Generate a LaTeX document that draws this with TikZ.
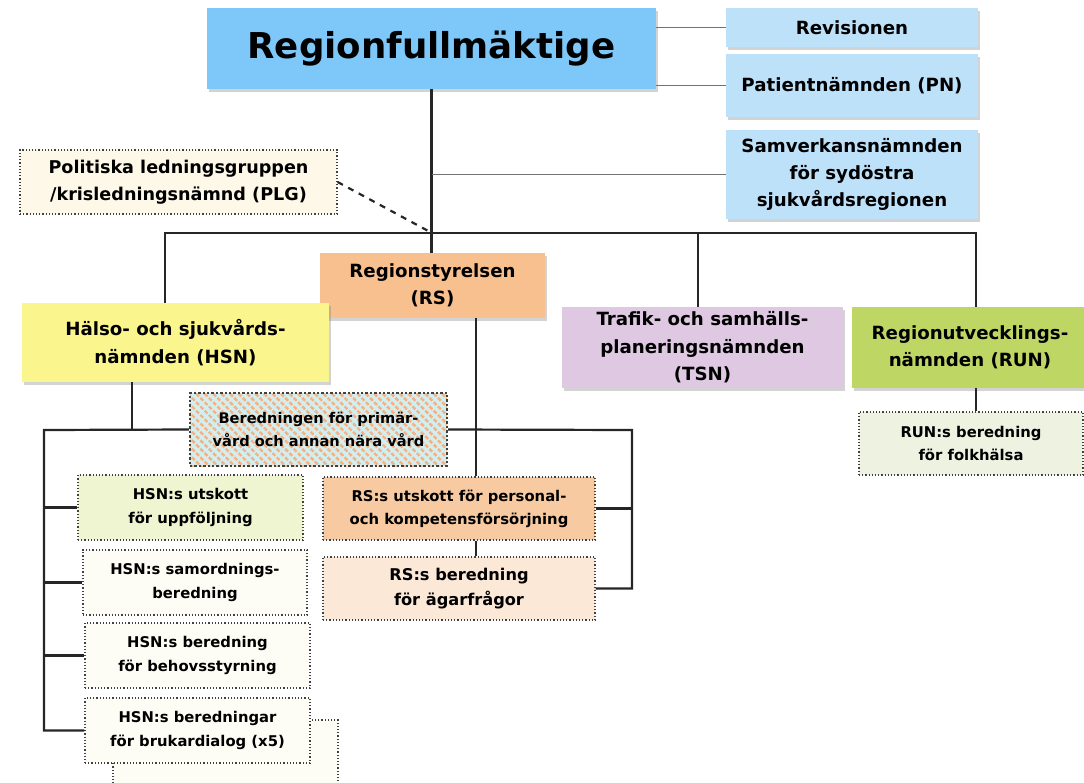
\documentclass[tikz,border=0pt]{standalone}
\usepackage{fontspec}
\setmainfont{DejaVu Sans}
\usetikzlibrary{positioning,shadows,patterns.meta}
\definecolor{rfblue}{RGB}{125,200,248}
\definecolor{sideblue}{RGB}{190,225,250}
\definecolor{rsorange}{RGB}{248,192,142}
\definecolor{hsnyellow}{RGB}{250,245,140}
\definecolor{tsnlilac}{RGB}{222,200,226}
\definecolor{rungreen}{RGB}{190,214,100}
\definecolor{plgcream}{RGB}{253,248,232}
\definecolor{utskgreen}{RGB}{238,245,208}
\definecolor{rsuorange}{RGB}{248,202,162}
\definecolor{rsbpeach}{RGB}{252,232,215}
\definecolor{prepwhite}{RGB}{254,253,245}
\definecolor{runbgreen}{RGB}{238,242,225}
\definecolor{hatchblue}{RGB}{212,238,240}
\definecolor{hatchorange}{RGB}{246,176,128}
\tikzset{
	box/.style = {align = center, inner sep = 0pt},
	board/.style = {box, drop shadow = {shadow xshift = 1.2pt, shadow yshift = -1.4pt, opacity = 0.35},
		font = \bfseries\fontsize{9.1}{13.7}\selectfont},
	side/.style = {board, fill = sideblue},
	prep/.style = {box, draw = black!75, densely dotted, line width = 0.6pt,
		font = \bfseries\fontsize{7.4}{11.6}\selectfont},
	link/.style = {draw = black!85, line width = 1.1pt},
	thin link/.style = {draw = black!55, line width = 0.8pt}
}
\begin{document}
\begin{tikzpicture}[x = 0.5pt, y = -0.5pt]
	\useasboundingbox (0,0) rectangle (1084,783);

	\node (rf) [board, fill = rfblue, minimum width = 224.5pt, minimum height = 40.5pt,
		font = \bfseries\fontsize{17.8}{20}\selectfont] at (431.5,48.5) {Regionfullmäktige};
	\node (rev) [side, minimum width = 126pt, minimum height = 19.5pt] at (852,27.5) {Revisionen};
	\node (pn) [side, minimum width = 126pt, minimum height = 31.5pt] at (852,85.5) {Patientnämnden (PN)};
	\node (svn) [side, minimum width = 126pt, minimum height = 44.5pt] at (852,174.5)
		{Samverkansnämnden\\för sydöstra\\sjukvårdsregionen};
	\draw [thin link] (rev.west) -- (rev.west -| rf.east);
	\draw [thin link] (pn.west) -- (pn.west -| rf.east);

	\node (plg) [prep, fill = plgcream, minimum width = 158.5pt, minimum height = 32pt,
		font = \bfseries\fontsize{8.8}{13.5}\selectfont] at (178.5,182)
		{Politiska ledningsgruppen\\/krisledningsnämnd (PLG)};

	\node (rs) [board, fill = rsorange, minimum width = 112.5pt, minimum height = 32.5pt] at (432.5,285.5)
		{Regionstyrelsen\\(RS)};
	\node (hsn) [board, fill = hsnyellow, minimum width = 153.5pt, minimum height = 39.5pt] at (175.5,342.5)
		{Hälso- och sjukvårds-\\nämnden (HSN)};
	\node (tsn) [board, fill = tsnlilac, minimum width = 140.5pt, minimum height = 40.5pt] at (702.5,347.5)
		{Trafik- och samhälls-\\planeringsnämnden\\(TSN)};
	\node (run) [board, fill = rungreen, minimum width = 118pt, minimum height = 40.5pt] at (970,347.5)
		{Regionutvecklings-\\nämnden (RUN)};
	\node (runb) [prep, fill = runbgreen, minimum width = 112pt, minimum height = 31.5pt] at (971,443.5)
		{RUN:s beredning\\för folkhälsa};

	% bus under the assembly
	\coordinate (bus) at (432,233);
	\coordinate (hsnup) at (165,303);
	\coordinate (tsnup) at (698,307);
	\coordinate (runup) at (976,307);
	\draw [link] (rf.south) -- (rf.south |- rs.north);
	\draw [thin link] (svn.west) -- (svn.west -| rf.south);
	\draw [link] (hsnup) -- (hsnup |- bus) -- (runup |- bus) -- (runup);
	\draw [link] (tsnup) -- (tsnup |- bus);
	\draw [link, dashed] (plg.east) -- (bus);
	\draw [link] (runup |- run.south) -- (runup |- runb.north);

	\node (ber) [prep, preaction = {fill = hatchblue},
		pattern = {Lines[angle = -45, distance = 3pt, line width = 1.2pt]}, pattern color = hatchorange,
		minimum width = 128.5pt, minimum height = 36.5pt, font = \bfseries\fontsize{7.3}{11.5}\selectfont]
		at (318.5,429.5) {Beredningen för primär-\\vård och annan nära vård};

	\node (rsu) [prep, fill = rsuorange, minimum width = 136pt, minimum height = 31.5pt] at (459,508.5)
		{RS:s utskott för personal-\\och kompetensförsörjning};
	\node (rsb) [prep, fill = rsbpeach, minimum width = 136pt, minimum height = 31.5pt,
		font = \bfseries\fontsize{8.1}{12.2}\selectfont] at (459,588.5) {RS:s beredning\\för ägarfrågor};

	\node (hsnu) [prep, fill = utskgreen, minimum width = 112.5pt, minimum height = 32.5pt] at (190.5,507.5)
		{HSN:s utskott\\för uppföljning};
	\node (hsns) [prep, fill = prepwhite, minimum width = 112pt, minimum height = 32.5pt] at (195,582.5)
		{HSN:s samordnings-\\beredning};
	\node (hsnb) [prep, fill = prepwhite, minimum width = 112.5pt, minimum height = 32.5pt] at (197.5,655.5)
		{HSN:s beredning\\för behovsstyrning};
	\node (stack) [prep, fill = prepwhite, minimum width = 112.5pt, minimum height = 35pt] at (225.5,755) {};
	\node (hsnd) [prep, fill = prepwhite, minimum width = 112.5pt, minimum height = 32.5pt] at (197.5,730.5)
		{HSN:s beredningar\\för brukardialog (x5)};

	% HSN branch
	\coordinate (hsnfork) at (132,430);
	\coordinate (lbus) at (44,430);
	\draw [link] (hsnfork |- hsn.south) -- (hsnfork);
	\draw [link] (ber.west) -- (lbus) -- (lbus |- hsnd.west) -- (hsnd.west);
	\draw [link] (lbus |- hsnu.west) -- (hsnu.west);
	\draw [link] (lbus |- hsns.west) -- (hsns.west);
	\draw [link] (lbus |- hsnb.west) -- (hsnb.west);

	% RS branch
	\coordinate (rsline) at (476,318);
	\coordinate (rbus) at (632,430);
	\draw [link] (rsline) -- (rsline |- rsu.north);
	\draw [link] (rsline |- rsu.south) -- (rsline |- rsb.north);
	\draw [link] (ber.east) -- (rbus) |- (rsb.east);
	\draw [link] (rsu.east) -- (rsu.east -| rbus);
\end{tikzpicture}
\end{document}
